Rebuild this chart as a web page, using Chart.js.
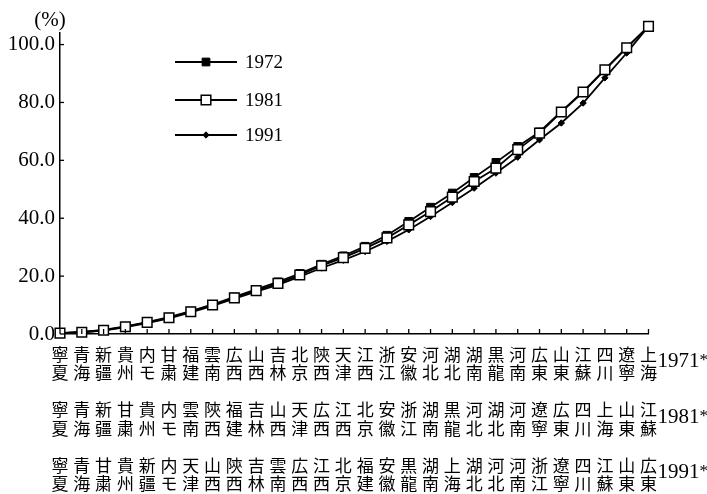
<!DOCTYPE html>
<html lang="ja">
<head>
	<meta charset="UTF-8">
	<title>cumulative share</title>
	<script src="https://cdn.jsdelivr.net/npm/chart.js@4"></script>
	<style>
		body { margin:0; background:#fff; }
		#wrap { width:707px; height:494px; }
	</style>
</head>
<body>
	<div id="wrap"><canvas id="chart" width="707" height="494"></canvas></div>

	<script>

		// province order (ascending) for each year, two characters each
		var order1971=['寧夏','青海','新疆','貴州','内モ','甘粛','福建','雲南','広西','山西','吉林','北京','陝西','天津','江西','浙江','安徽','河北','湖北','湖南','黒龍','河南','広東','山東','江蘇','四川','遼寧','上海'];
		var order1981=['寧夏','青海','新疆','甘粛','貴州','内モ','雲南','陝西','福建','吉林','山西','天津','広西','江西','北京','安徽','浙江','湖南','黒龍','河北','湖北','河南','遼寧','広東','四川','上海','山東','江蘇'];
		var order1991=['寧夏','青海','甘粛','貴州','新疆','内モ','天津','山西','陝西','吉林','雲南','広西','江西','北京','福建','安徽','黒龍','湖南','上海','湖北','河北','河南','浙江','遼寧','四川','江蘇','山東','広東'];
		var rowYears=['1971','1981','1991'];

		// cumulative share (%)
		var v1972=[0.3,0.7,1.4,2.6,4.1,5.8,7.9,10.2,12.8,15.4,18.0,20.9,24.1,27.0,30.3,34.1,38.9,43.8,48.7,54.1,59.3,64.8,69.8,76.9,83.7,91.4,99.0,106.3];
		var v1981=[0.3,0.6,1.3,2.5,4.0,5.6,7.7,10.0,12.5,15.0,17.5,20.4,23.6,26.4,29.6,33.2,37.7,42.3,47.3,52.7,57.3,63.7,69.4,76.7,83.6,91.3,98.9,106.3];
		var v1991=[0.3,0.6,1.2,2.4,3.8,5.4,7.5,9.7,12.2,14.6,17.0,19.8,22.8,25.5,28.5,32.0,36.0,40.6,45.4,50.4,55.6,61.1,67.1,72.9,79.8,88.5,97.1,106.3];

		var yTicks=[0,20,40,60,80,100];

		var LINE_H=18.5;
		var TICK_PAD=11;

		var labels=order1971.map(function(d,i){
			return [d[0],d[1],'',order1981[i][0],order1981[i][1],'',order1991[i][0],order1991[i][1]];
		});

		var serif='"Liberation Serif", "DejaVu Serif", serif';

		var decor={
			id:'decor',
			afterDraw:function(chart){
				var ctx=chart.ctx,
					xs=chart.scales.x,
					ys=chart.scales.y;

				ctx.save();
				ctx.strokeStyle='#000';
				ctx.lineWidth=1.3;

				// inward tick marks
				ys.ticks.forEach(function(t){
					var py=ys.getPixelForValue(t.value);
					ctx.beginPath();
					ctx.moveTo(xs.left,py);
					ctx.lineTo(xs.left+4,py);
					ctx.stroke();
				});
				labels.forEach(function(l,i){
					var px=xs.getPixelForValue(i);
					ctx.beginPath();
					ctx.moveTo(px,ys.bottom);
					ctx.lineTo(px,ys.bottom-5);
					ctx.stroke();
				});

				ctx.fillStyle='#000';

				// unit
				ctx.font='21px '+serif;
				ctx.textAlign='center';
				ctx.textBaseline='middle';
				ctx.fillText('(%)',50,20);

				// year of each label row
				rowYears.forEach(function(y,r){
					var mid=xs.top+TICK_PAD+LINE_H*(3*r+1)-2;
					ctx.font='21px '+serif;
					ctx.textAlign='left';
					ctx.textBaseline='middle';
					ctx.fillText(y,xs.right+9,mid);
					var w=ctx.measureText(y).width;
					ctx.font='17px '+serif;
					ctx.textBaseline='top';
					ctx.fillText('*',xs.right+9+w,mid-9);
				});

				// legend
				var legY=[62,100,135];
				chart.data.datasets.forEach(function(ds,i){
					var y=legY[i];
					ctx.strokeStyle='#000';
					ctx.lineWidth=1.8;
					ctx.beginPath();
					ctx.moveTo(175,y);
					ctx.lineTo(237,y);
					ctx.stroke();
					ctx.fillStyle=ds.pointBackgroundColor;
					ctx.strokeStyle=ds.pointBorderColor;
					ctx.lineWidth=ds.pointBorderWidth;
					Chart.helpers.drawPoint(ctx,{
						pointStyle:ds.pointStyle,
						radius:ds.pointRadius,
						borderWidth:ds.pointBorderWidth,
						rotation:0
					},206,y);
					ctx.fillStyle='#000';
					ctx.font='19px '+serif;
					ctx.textAlign='left';
					ctx.textBaseline='middle';
					ctx.fillText(ds.label,245,y+1);
				});

				ctx.restore();
			}
		};

		new Chart(document.getElementById('chart'),{
			type:'line',
			data:{
				labels:labels,
				datasets:[
					{
						label:'1972',
						data:v1972,
						borderColor:'#000',
						borderWidth:1.8,
						pointStyle:'rect',
						pointRadius:5.5,
						pointBackgroundColor:'#000',
						pointBorderColor:'#000',
						pointBorderWidth:1,
						order:1,
						clip:false
					},
					{
						label:'1981',
						data:v1981,
						borderColor:'#000',
						borderWidth:1.8,
						pointStyle:'rect',
						pointRadius:6.8,
						pointBackgroundColor:'#fff',
						pointBorderColor:'#000',
						pointBorderWidth:1.5,
						order:0,
						clip:false
					},
					{
						label:'1991',
						data:v1991,
						borderColor:'#000',
						borderWidth:1.8,
						pointStyle:'rectRot',
						pointRadius:3.2,
						pointBackgroundColor:'#000',
						pointBorderColor:'#000',
						pointBorderWidth:1,
						order:2,
						clip:false
					}
				]
			},
			options:{
				responsive:false,
				animation:false,
				devicePixelRatio:1,
				layout:{ padding:{ top:33, right:58.5, left:0, bottom:0 } },
				plugins:{ legend:{ display:false }, tooltip:{ enabled:false } },
				elements:{ line:{ tension:0 } },
				scales:{
					x:{
						type:'category',
						offset:false,
						border:{ display:true, color:'#000', width:1.5 },
						grid:{ display:true, drawOnChartArea:false, drawTicks:false },
						ticks:{
							autoSkip:false,
							maxRotation:0,
							minRotation:0,
							padding:TICK_PAD,
							color:'#000',
							font:{ family:'"Noto Sans CJK JP", sans-serif', size:17, lineHeight:LINE_H+'px' }
						},
						afterFit:function(s){ s.height=160; }
					},
					y:{
						min:0,
						max:104,
						border:{ display:true, color:'#000', width:1.5 },
						grid:{ display:true, drawOnChartArea:false, drawTicks:false },
						ticks:{
							stepSize:20,
							padding:5,
							color:'#000',
							font:{ family:serif, size:21 },
							callback:function(v){ return v.toFixed(1); }
						},
						afterBuildTicks:function(s){
							s.ticks=yTicks.map(function(v){ return {value:v}; });
						},
						afterFit:function(s){ s.width=60; }
					}
				}
			},
			plugins:[decor]
		});

	</script>

</body>
</html>
